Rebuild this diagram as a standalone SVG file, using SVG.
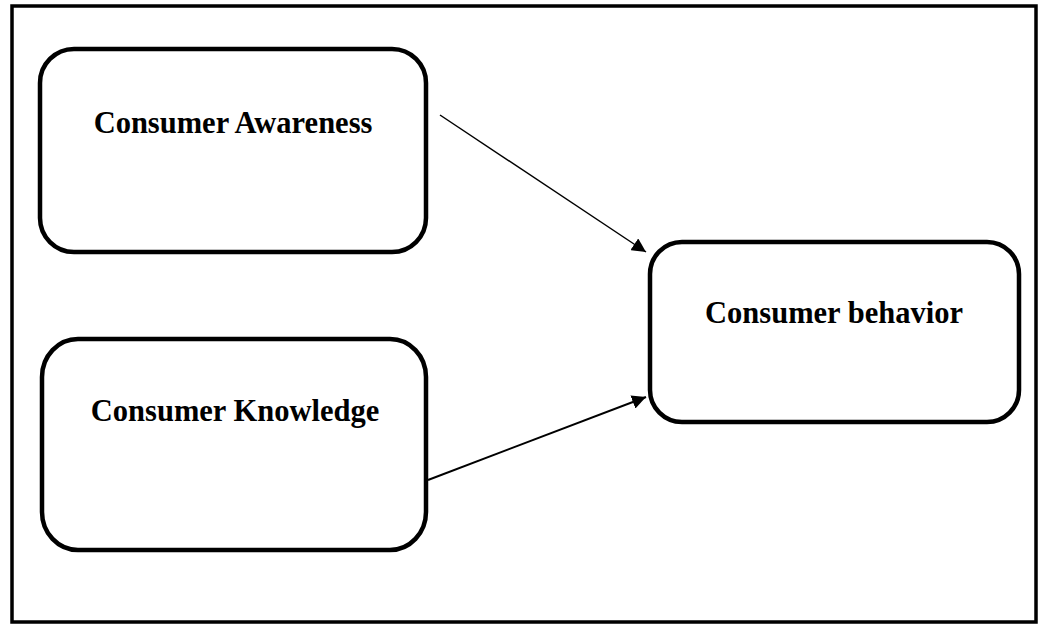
<svg xmlns="http://www.w3.org/2000/svg" width="1038" height="624" viewBox="0 0 1038 624">
<style>
.node{fill:#fff;stroke:#000;stroke-width:4.5}
.lbl{font-family:"Liberation Serif","Times New Roman",serif;font-weight:bold;font-size:30.5px;fill:#000;text-anchor:middle}
.conn{stroke:#000;fill:none}
</style>
<defs>
<marker id="ah2" viewBox="0 0 10 10" refX="10" refY="5" markerWidth="14" markerHeight="14" markerUnits="userSpaceOnUse" orient="auto">
<path d="M0,0 L10,5 L0,10 z" fill="#000"/>
</marker>
</defs>
<rect x="0" y="0" width="1038" height="624" fill="#fff"/>
<rect id="frame" x="12" y="6" width="1024" height="616" fill="none" stroke="#000" stroke-width="3.5"/>
<g id="awareness">
<rect class="node" x="40" y="49" width="386" height="203" rx="34" ry="34"/>
<text class="lbl" x="233" y="133">Consumer Awareness</text>
</g>
<g id="knowledge">
<rect class="node" x="42" y="339" width="384" height="211" rx="36" ry="38"/>
<text class="lbl" x="235" y="421">Consumer Knowledge</text>
</g>
<g id="behavior">
<rect class="node" x="650" y="242" width="369" height="180" rx="32" ry="32"/>
<text class="lbl" x="834" y="323">Consumer behavior</text>
</g>
<g id="connectors">
<line class="conn" x1="440" y1="115" x2="646" y2="252" stroke-width="1.5" marker-end="url(#ah2)"/>
<line class="conn" x1="428" y1="480" x2="646" y2="397" stroke-width="2" marker-end="url(#ah2)"/>
</g>
</svg>
